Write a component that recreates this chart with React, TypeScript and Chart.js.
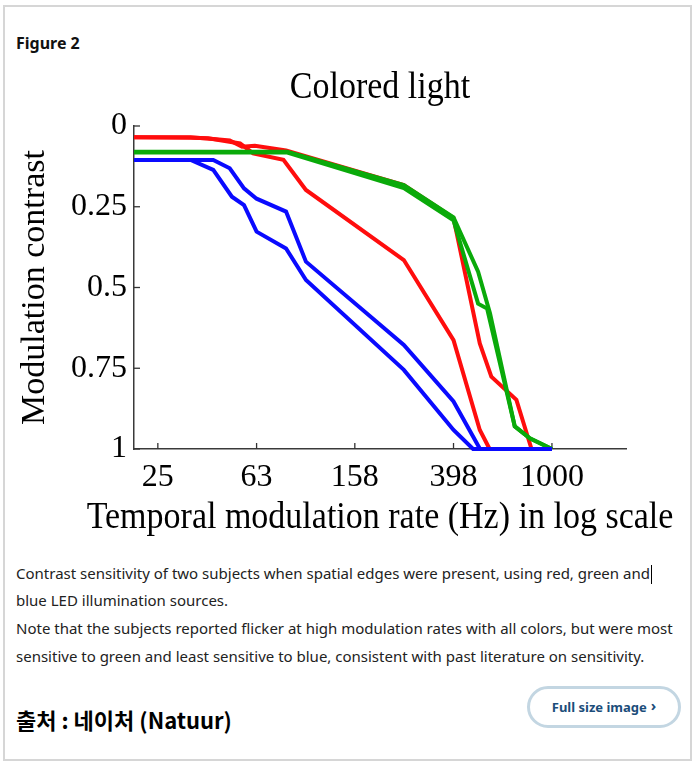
import React, { useEffect, useRef } from "react";
import { Chart, registerables } from "chart.js";

Chart.register(...registerables);

const chartTitle = "Colored light";
const xAxisTitle = "Temporal modulation rate (Hz) in log scale";
const yAxisTitle = "Modulation contrast";

const xTickValues = [25, 63, 158, 398, 1000];
const xTickLabels = ["25", "63", "158", "398", "1000"];
const yTickValues = [0, 0.25, 0.5, 0.75, 1];
const yTickLabels = ["0", "0.25", "0.5", "0.75", "1"];

// Red, subject A (follows green, drops near 400 Hz)
const redAFreq = [20, 34, 42, 49, 55, 62, 83, 250, 398, 509, 567, 717, 826];
const redAVal = [0.035, 0.035, 0.04, 0.045, 0.064, 0.061, 0.076, 0.183, 0.285, 0.673, 0.776, 0.848, 1.0];
// Red, subject B
const redBFreq = [20, 34, 40, 54, 61, 81, 100, 250, 398, 509, 558];
const redBVal = [0.035, 0.036, 0.038, 0.054, 0.085, 0.105, 0.198, 0.415, 0.663, 0.941, 1.0];
// Green, subject A
const greenAFreq = [20, 84, 250, 398, 501, 560, 706, 813, 1000];
const greenAVal = [0.08, 0.08, 0.183, 0.283, 0.451, 0.58, 0.93, 0.967, 1.0];
// Green, subject B
const greenBFreq = [20, 84, 250, 398, 501, 545, 706, 813, 1000];
const greenBVal = [0.082, 0.082, 0.192, 0.292, 0.55, 0.565, 0.93, 0.967, 1.0];
// Blue, subject A (least sensitive)
const blueAFreq = [20, 34, 42, 50, 56, 63, 83, 100, 250, 398, 478, 1000];
const blueAVal = [0.105, 0.105, 0.136, 0.219, 0.245, 0.327, 0.379, 0.477, 0.755, 0.941, 1.0, 1.0];
// Blue, subject B
const blueBFreq = [20, 42, 49, 56, 63, 83, 100, 250, 398, 510, 1000];
const blueBVal = [0.105, 0.105, 0.131, 0.193, 0.225, 0.265, 0.42, 0.678, 0.853, 1.0, 1.0];

const RED = "#ff0d0d";
const GREEN = "#0aaa0a";
const BLUE = "#0a0aff";

const serif = "'Liberation Serif', 'Times New Roman', serif";

const toPoints = (f: number[], v: number[]) => f.map((x, i) => ({ x, y: v[i] }));

const decorPlugin = {
  id: "decor",
  beforeDatasetsDraw(chart: any) {
    const { ctx, chartArea, scales } = chart;
    ctx.save();
    ctx.strokeStyle = "#333";
    ctx.lineWidth = 1.3;
    for (const v of yTickValues) {
      const y = scales.y.getPixelForValue(v);
      ctx.beginPath();
      ctx.moveTo(chartArea.left, y);
      ctx.lineTo(chartArea.left + 6, y);
      ctx.stroke();
    }
    for (const v of xTickValues) {
      const x = scales.x.getPixelForValue(v);
      ctx.beginPath();
      ctx.moveTo(x, chartArea.bottom);
      ctx.lineTo(x, chartArea.bottom - 6);
      ctx.stroke();
    }
    ctx.restore();
  },
  afterDraw(chart: any) {
    const { ctx, chartArea } = chart;
    const cx = (chartArea.left + chartArea.right) / 2;
    const drawStretched = (text: string, y: number) => {
      ctx.save();
      ctx.translate(cx, y);
      ctx.scale(1, 1.1);
      ctx.fillText(text, 0, 0);
      ctx.restore();
    };
    ctx.save();
    ctx.fillStyle = "#000";
    ctx.textAlign = "center";
    ctx.textBaseline = "middle";
    ctx.font = `34px ${serif}`;
    drawStretched(chartTitle, chartArea.top - 38);
    drawStretched(xAxisTitle, chartArea.bottom + 69);
    ctx.restore();
  },
};

export default function App() {
  const ref = useRef<HTMLCanvasElement>(null);

  useEffect(() => {
    const line = (label: string, f: number[], v: number[], color: string) => ({
      label,
      data: toPoints(f, v),
      borderColor: color,
      backgroundColor: color,
      borderWidth: 4,
      pointRadius: 0,
      tension: 0,
      fill: false,
      clip: false as any,
      borderJoinStyle: "miter" as const,
    });
    const chart = new Chart(ref.current!, {
      type: "line",
      data: {
        datasets: [
          line("Blue A", blueAFreq, blueAVal, BLUE),
          line("Blue B", blueBFreq, blueBVal, BLUE),
          line("Green A", greenAFreq, greenAVal, GREEN),
          line("Green B", greenBFreq, greenBVal, GREEN),
          line("Red A", redAFreq, redAVal, RED),
          line("Red B", redBFreq, redBVal, RED),
        ],
      },
      options: {
        animation: false,
        responsive: false,
        maintainAspectRatio: false,
        layout: { padding: { top: 66, right: 64, left: 0, bottom: 0 } },
        plugins: {
          legend: { display: false },
          title: { display: false },
          tooltip: { enabled: false },
        },
        scales: {
          x: {
            type: "logarithmic",
            min: 20,
            max: 2000,
            afterBuildTicks: (scale: any) => {
              scale.ticks = xTickValues.map((v) => ({ value: v }));
            },
            afterFit: (scale: any) => {
              scale.height = 91;
            },
            grid: { display: false, drawTicks: false },
            border: { display: true, color: "#3a3a3a", width: 1.5 },
            ticks: {
              autoSkip: false,
              maxRotation: 0,
              padding: 9,
              color: "#000",
              font: { family: serif, size: 32, lineHeight: 1.2 },
              callback: (_v: any, i: number) => xTickLabels[i],
            },
          },
          y: {
            type: "linear",
            reverse: true,
            min: 0,
            max: 1,
            afterBuildTicks: (scale: any) => {
              scale.ticks = yTickValues.map((v) => ({ value: v }));
            },
            afterFit: (scale: any) => {
              scale.width = 124;
            },
            grid: { display: false, drawTicks: false },
            border: { display: true, color: "#3a3a3a", width: 1.5 },
            ticks: {
              padding: 7,
              color: "#000",
              font: { family: serif, size: 32, lineHeight: 1.2 },
              callback: (_v: any, i: number) => yTickLabels[i],
            },
            title: {
              display: true,
              text: yAxisTitle,
              color: "#000",
              font: { family: serif, size: 34, lineHeight: 1.2 },
              padding: { top: 5, bottom: 0 },
            },
          },
        },
      } as any,
      plugins: [decorPlugin],
    });
    return () => chart.destroy();
  }, []);

  const captionLine: React.CSSProperties = {
    position: "absolute",
    left: 16,
    whiteSpace: "nowrap",
    fontSize: 15,
    lineHeight: "28px",
    color: "#222",
  };

  return (
    <div
      style={{
        position: "absolute",
        left: 0,
        top: 0,
        width: 698,
        height: 762,
        background: "#fff",
        fontFamily: "'Noto Sans', 'Open Sans', sans-serif",
        overflow: "hidden",
      }}
    >
      <div
        style={{
          position: "absolute",
          left: 3,
          top: 5,
          width: 689,
          height: 756,
          boxSizing: "border-box",
          border: "2px solid #d6d6d6",
        }}
      />
      <div
        style={{
          position: "absolute",
          left: 16,
          top: 33,
          fontSize: 16,
          lineHeight: "20px",
          fontWeight: 700,
          color: "#111",
        }}
      >
        Figure 2
      </div>
      <div style={{ position: "absolute", left: 10, top: 60, width: 680, height: 480 }}>
        <canvas ref={ref} width={680} height={480} style={{ width: 680, height: 480, display: "block" }} />
      </div>
      <div style={{ ...captionLine, top: 559 }}>
        Contrast sensitivity of two subjects when spatial edges were present, using red, green and
        <span
          style={{
            display: "inline-block",
            width: 0,
            height: 19,
            borderLeft: "1px solid #000",
            verticalAlign: "middle",
            marginLeft: 1,
          }}
        />
      </div>
      <div style={{ ...captionLine, top: 586 }}>blue LED illumination sources.</div>
      <div style={{ ...captionLine, top: 614 }}>
        Note that the subjects reported flicker at high modulation rates with all colors, but were most
      </div>
      <div style={{ ...captionLine, top: 642 }}>
        sensitive to green and least sensitive to blue, consistent with past literature on sensitivity.
      </div>
      <div
        style={{
          position: "absolute",
          left: 16,
          top: 704,
          fontSize: 22,
          lineHeight: "30px",
          fontWeight: 700,
          color: "#000",
          fontFamily: "'Noto Sans CJK KR', 'Noto Sans', sans-serif",
          whiteSpace: "nowrap",
        }}
      >
        출처 : 네이처 (Natuur)
      </div>
      <div
        style={{
          position: "absolute",
          left: 527,
          top: 686,
          width: 154,
          height: 42,
          boxSizing: "border-box",
          border: "3px solid #c3d6e2",
          borderRadius: 21,
          display: "flex",
          alignItems: "center",
          justifyContent: "center",
          fontSize: 13,
          fontWeight: 700,
          color: "#1b4d7a",
          whiteSpace: "nowrap",
        }}
      >
        Full size image<span style={{ marginLeft: 4, fontSize: 15, position: "relative", top: -2 }}>›</span>
      </div>
    </div>
  );
}
